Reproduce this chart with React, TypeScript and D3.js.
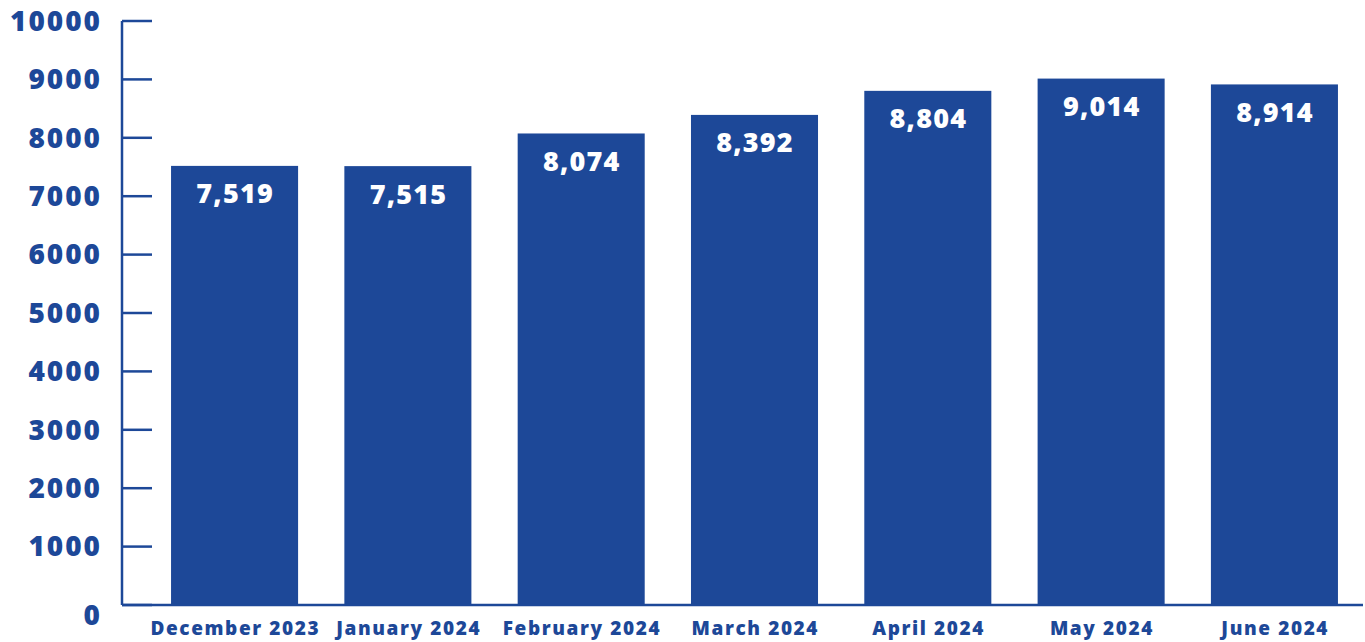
import React, { useRef, useEffect } from 'react';
import * as d3 from 'd3';

// Monthly totals, Dec 2023 – Jun 2024.
const months = [
  'December 2023',
  'January 2024',
  'February 2024',
  'March 2024',
  'April 2024',
  'May 2024',
  'June 2024',
];
const totals = [7519, 7515, 8074, 8392, 8804, 9014, 8914];
const yTicks = [0, 1000, 2000, 3000, 4000, 5000, 6000, 7000, 8000, 9000, 10000];

const BLUE = '#1d4898';
const FONT = '"Open Sans", "Noto Sans", sans-serif';

export default function App() {
  const svgRef = useRef<SVGSVGElement>(null);

  useEffect(() => {
    const svg = d3.select(svgRef.current);
    svg.selectAll('*').remove();
    if (!svgRef.current) return;

    const width = 1365;
    const height = 642;
    const axisX = 122;
    const yTop = 21;
    const yBottom = 605;

    const y = d3.scaleLinear().domain([0, 10000]).range([yBottom, yTop]);
    const x = d3.scaleBand<string>()
      .domain(months)
      .range([axisX, 1387])
      .paddingInner(0.267)
      .paddingOuter(0.283);

    svg.attr('viewBox', `0 0 ${width} ${height}`);
    const g = svg.append('g');

    // Bars
    g.selectAll('rect.bar')
      .data(months)
      .join('rect')
      .attr('class', 'bar')
      .attr('x', (d) => x(d)!)
      .attr('y', (_, i) => y(totals[i]))
      .attr('width', x.bandwidth())
      .attr('height', (_, i) => y(0) - y(totals[i]))
      .attr('fill', BLUE);

    // Value labels inside bar tops (letter-spacing widens Open Sans toward the original face)
    const valSpacing = 1.2;
    g.selectAll('text.val')
      .data(months)
      .join('text')
      .attr('class', 'val')
      .attr('x', (d) => x(d)! + x.bandwidth() / 2 + valSpacing / 2)
      .attr('y', (_, i) => y(totals[i]) + 28)
      .attr('dy', '0.35em')
      .attr('text-anchor', 'middle')
      .attr('fill', 'white')
      .attr('font-family', FONT)
      .attr('font-weight', 800)
      .attr('font-size', 27)
      .attr('letter-spacing', valSpacing)
      .text((_, i) => d3.format(',')(totals[i]));

    // Y axis line + ticks
    g.append('line')
      .attr('x1', axisX).attr('x2', axisX)
      .attr('y1', y(10000)).attr('y2', y(0))
      .attr('stroke', BLUE).attr('stroke-width', 2.5);
    const tickSpacing = 2;
    for (const t of yTicks) {
      g.append('line')
        .attr('x1', axisX).attr('x2', axisX + 30)
        .attr('y1', y(t)).attr('y2', y(t))
        .attr('stroke', BLUE).attr('stroke-width', 2.5);
      g.append('text')
        .attr('x', 100 + tickSpacing).attr('y', y(t) + (t === 0 ? 10 : 0))
        .attr('dy', '0.35em')
        .attr('text-anchor', 'end')
        .attr('fill', BLUE)
        .attr('font-family', FONT)
        .attr('font-weight', 800)
        .attr('font-size', 28)
        .attr('letter-spacing', tickSpacing)
        .text(t);
    }

    // Baseline
    g.append('line')
      .attr('x1', axisX).attr('x2', 1363)
      .attr('y1', y(0)).attr('y2', y(0))
      .attr('stroke', BLUE).attr('stroke-width', 2.5);

    // Category labels
    const catSpacing = 1.6;
    g.selectAll('text.cat')
      .data(months)
      .join('text')
      .attr('class', 'cat')
      .attr('x', (d) => x(d)! + x.bandwidth() / 2 + catSpacing / 2)
      .attr('y', 628)
      .attr('dy', '0.35em')
      .attr('text-anchor', 'middle')
      .attr('fill', BLUE)
      .attr('font-family', FONT)
      .attr('font-weight', 800)
      .attr('font-size', 19)
      .attr('letter-spacing', catSpacing)
      .text((d) => d);
  }, []);

  return (
    <div style={{ position: 'fixed', left: 0, top: 0, width: 1365, height: 642, background: 'white' }}>
      <svg ref={svgRef} width={1365} height={642} style={{ display: 'block' }} />
    </div>
  );
}
